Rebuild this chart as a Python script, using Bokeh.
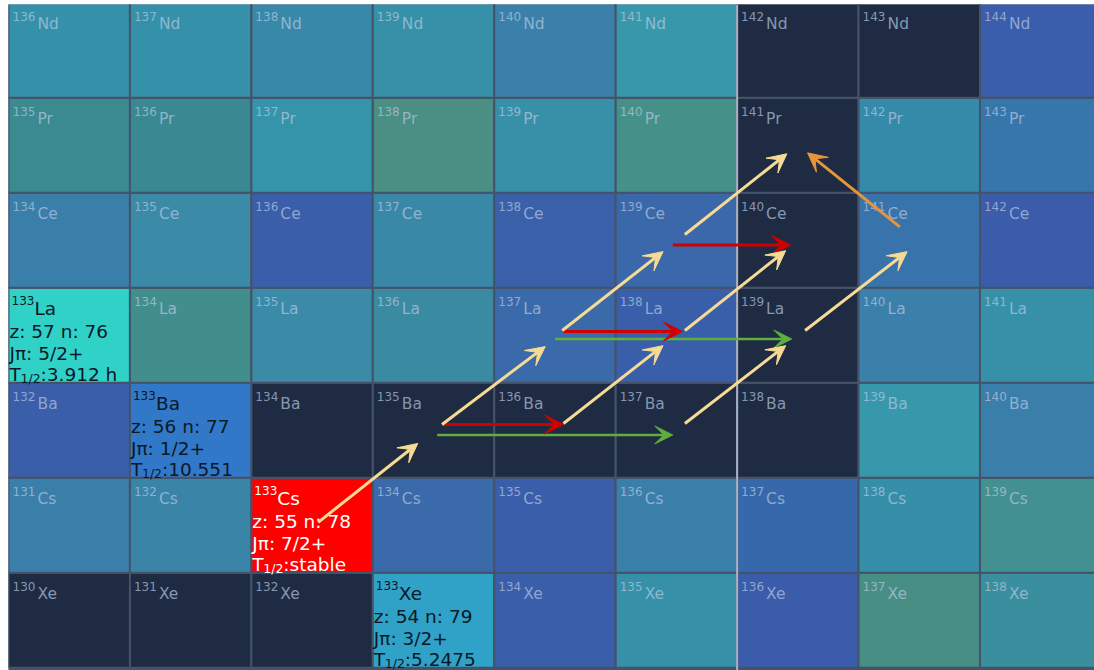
from bokeh.plotting import figure
from bokeh.models import ColumnDataSource, Arrow, VeeHead, Range1d
from bokeh.core.properties import value
from bokeh.embed import file_html
from bokeh.resources import INLINE

# ---------------- data ----------------
elements = ["Xe", "Cs", "Ba", "La", "Ce", "Pr", "Nd"]
z_values = [54, 55, 56, 57, 58, 59, 60]
n_values = [76, 77, 78, 79, 80, 81, 82, 83, 84]

DK = "#1e2b42"
cell_colors = {
    "Nd": ["#3591a9", "#3591a9", "#3788a9", "#3690a8", "#3a80aa", "#3898ab", DK, DK, "#3a5eab"],
    "Pr": ["#3a8a90", "#398892", "#3594a9", "#4a8e84", "#3890a8", "#46908a", DK, "#3589a9", "#3776ab"],
    "Ce": ["#3a7eaa", "#3a8aa8", "#3a5eaa", "#3a88a8", "#3a60aa", "#3a68aa", DK, "#3874ab", "#3a5caa"],
    "La": ["#30d2c8", "#428e8c", "#3a8aa8", "#3a8ba2", "#3a6aaa", "#3a5faa", DK, "#3a80aa", "#3590a8"],
    "Ba": ["#3a5eaa", "#3278c8", DK, DK, DK, DK, DK, "#3698aa", "#3a7eaa"],
    "Cs": ["#3a7eaa", "#3a84a8", "#ff0000", "#3a6aaa", "#3a5eaa", "#3a7faa", "#3668ab", "#358fa9", "#42908f"],
    "Xe": [DK, DK, DK, "#30a2c8", "#3a5eaa", "#3590a8", "#3a5cab", "#478e85", "#3a8f9e"],
}

# highlighted nuclides with details
detail_symbol = ["La", "Ba", "Cs", "Xe"]
detail_z = [57, 56, 55, 54]
detail_n = [76, 77, 78, 79]
detail_spin = ["5/2+", "1/2+", "7/2+", "3/2+"]
detail_half = ["3.912 h", "10.551", "stable", "5.2475"]
detail_color = ["#0b1826", "#0b1826", "#ffffff", "#0b1826"]

magic_n = [82]

# arrows (N, Z coordinates)
yellow_x0 = [78.05, 79.07, 80.07, 81.07, 80.06, 81.07, 82.06, 81.07]
yellow_y0 = [55.03, 56.06, 56.07, 56.07, 57.05, 57.05, 57.05, 58.06]
yellow_x1 = [78.87, 79.92, 80.89, 81.90, 80.89, 81.90, 82.90, 81.91]
yellow_y1 = [55.86, 56.88, 56.89, 56.89, 57.88, 57.89, 57.88, 58.91]

red_x0 = [79.07, 80.07, 80.97]
red_y0 = [56.06, 57.04, 57.95]
red_x1 = [80.07, 81.05, 81.94]
red_y1 = [56.06, 57.04, 57.95]

green_x0 = [79.03, 80.00]
green_y0 = [55.95, 56.96]
green_x1 = [80.97, 81.95]
green_y1 = [55.95, 56.96]

orange_x0 = [82.84]
orange_y0 = [58.14]
orange_x1 = [82.08]
orange_y1 = [58.92]

# ---------------- figure ----------------
W, H = 1094, 670
p = figure(width=W, height=H, output_backend="svg", toolbar_location=None,
           x_range=Range1d(75.5, 84.443), y_range=Range1d(53.47, 60.482),
           min_border=0, min_border_left=8, min_border_top=4)
p.axis.visible = False
p.grid.visible = False
p.outline_line_color = None
p.background_fill_color = "#45536a"
p.border_fill_color = "white"

cx, cy, cc, mass_t, sym_t = [], [], [], [], []
for zi, el in zip(z_values, elements):
    for j, n in enumerate(n_values):
        cx.append(n)
        cy.append(zi)
        cc.append(cell_colors[el][j])
        mass_t.append(str(zi + n))
        sym_t.append(el)

cells = ColumnDataSource(dict(x=cx, y=cy, color=cc))
p.rect(x="x", y="y", width=1, height=1, source=cells, fill_color="color",
       line_color="#45536a", line_width=2)

# magic number line
p.segment(x0=[m - 0.5 for m in magic_n], y0=[53.4] * len(magic_n),
          x1=[m - 0.5 for m in magic_n], y1=[60.6] * len(magic_n),
          line_color="#aab3c3", line_width=2)

FONT = value("DejaVu Sans")

# normal labels
det_keys = set(zip(detail_n, detail_z))
lx, ly, lm, ls = [], [], [], []
for x, y, m, s in zip(cx, cy, mass_t, sym_t):
    if (x, y) in det_keys:
        continue
    lx.append(x - 0.5)
    ly.append(y + 0.5)
    lm.append(m)
    ls.append(s)
lab = ColumnDataSource(dict(x=lx, y=ly, m=lm, s=ls))
p.text(x="x", y="y", text="m", source=lab, x_offset=4, y_offset=14,
       text_font=FONT, text_font_size="12px", text_color="#b8c8e0", text_alpha=0.7,
       text_baseline="alphabetic", text_align="left")
p.text(x="x", y="y", text="s", source=lab, x_offset=29, y_offset=21,
       text_font=FONT, text_font_size="15.5px", text_color="#b8c8e0", text_alpha=0.7,
       text_baseline="alphabetic", text_align="left")

# detailed labels
dx = [n - 0.5 for n in detail_n]
dy = [z + 0.5 for z in detail_z]
dsrc = ColumnDataSource(dict(
    x=dx, y=dy, c=detail_color,
    m=[str(z + n) for z, n in zip(detail_z, detail_n)],
    s=detail_symbol,
    l2=["z: %d n: %d" % (z, n) for z, n in zip(detail_z, detail_n)],
    l3=["Jπ: " + s for s in detail_spin],
    t=["T"] * len(dx),
    sub=["1/2"] * len(dx),
    l4=[":" + h for h in detail_half],
))
common = dict(source=dsrc, text_font=FONT, text_color="c",
              text_baseline="alphabetic", text_align="left")
p.text(x="x", y="y", text="m", x_offset=3, y_offset=13, text_font_size="12px", **common)
p.text(x="x", y="y", text="s", x_offset=26, y_offset=21, text_font_size="18.5px", **common)
p.text(x="x", y="y", text="l2", x_offset=1, y_offset=44, text_font_size="18.5px", **common)
p.text(x="x", y="y", text="l3", x_offset=1, y_offset=66, text_font_size="18.5px", **common)
p.text(x="x", y="y", text="t", x_offset=1, y_offset=87, text_font_size="18.5px", **common)
p.text(x="x", y="y", text="sub", x_offset=12, y_offset=91, text_font_size="12.5px", **common)
p.text(x="x", y="y", text="l4", x_offset=32, y_offset=87, text_font_size="18.5px", **common)


def add_arrows(x0, y0, x1, y1, color, width, size):
    src = ColumnDataSource(dict(x0=x0, y0=y0, x1=x1, y1=y1))
    p.add_layout(Arrow(end=VeeHead(size=size, fill_color=color, line_color=color, line_width=1),
                       source=src, x_start="x0", y_start="y0", x_end="x1", y_end="y1",
                       line_color=color, line_width=width))


add_arrows(green_x0, green_y0, green_x1, green_y1, "#5fae3e", 2.5, 18)
add_arrows(red_x0, red_y0, red_x1, red_y1, "#d00000", 3, 19)
add_arrows(yellow_x0, yellow_y0, yellow_x1, yellow_y1, "#f7db95", 3, 19)
add_arrows(orange_x0, orange_y0, orange_x1, orange_y1, "#e8953a", 3, 19)

open("out.html", "w").write(file_html(p, INLINE))
